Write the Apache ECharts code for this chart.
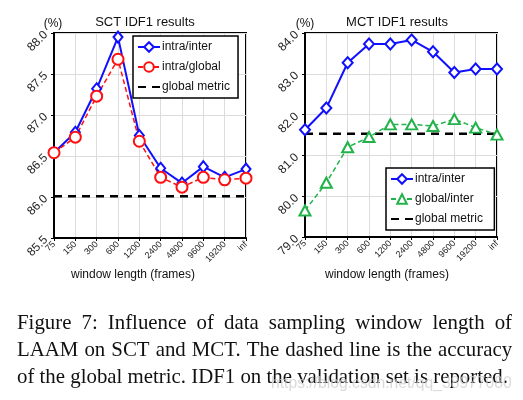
<!DOCTYPE html>
<html><head><meta charset="utf-8">
<script src="https://cdn.jsdelivr.net/npm/echarts@6/dist/echarts.min.js"></script>
<style>html,body{margin:0;padding:0;background:#fff}#c{width:523px;height:400px}</style>
</head><body><div id="c"></div>
<script>
const categories = ['75','150','300','600','1200','2400','4800','9600','19200','inf'];
const sctIntraInter = [86.54, 86.79, 87.32, 87.95, 86.75, 86.35, 86.17, 86.37, 86.24, 86.34];
const sctIntraGlobal = [86.54, 86.73, 87.23, 87.68, 86.68, 86.24, 86.12, 86.24, 86.21, 86.23];
const sctGlobal = [86.01, 86.01, 86.01, 86.01, 86.01, 86.01, 86.01, 86.01, 86.01, 86.01];
const mctIntraInter = [81.63, 82.16, 83.27, 83.73, 83.73, 83.83, 83.54, 83.03, 83.12, 83.12];
const mctGlobalInter = [79.65, 80.33, 81.20, 81.45, 81.76, 81.76, 81.72, 81.89, 81.68, 81.51];
const mctGlobal = [81.53, 81.53, 81.53, 81.53, 81.53, 81.53, 81.53, 81.53, 81.53, 81.53];
const sctTicks = {min: 85.5, max: 88.0, interval: 0.5};
const mctTicks = {min: 79.0, max: 84.0, interval: 1.0};
const captionLines = [
  'Figure 7:  Influence of data sampling window length of',
  'LAAM on SCT and MCT. The dashed line is the accuracy',
  'of the global metric. IDF1 on the validation set is reported.'
];
const watermark = 'https://blog.csdn.net/qq_38977080';

const BLUE = '#1010ff', RED = '#ff1010', GREEN = '#22b24a';
const SANS = 'Liberation Sans, Arial, sans-serif';
const SERIF = 'Liberation Serif, Times New Roman, serif';

function xAxis(gi) {
  return {
    type: 'category', gridIndex: gi, data: categories, boundaryGap: false,
    axisLine: {lineStyle: {color: '#000', width: 2}},
    axisTick: {show: true, length: 3, lineStyle: {color: '#000', width: 1}},
    axisLabel: {rotate: 45, fontSize: 9, color: '#222', margin: 5, fontFamily: SANS, interval: 0},
    splitLine: {show: true, lineStyle: {color: '#dcdcdc', width: 1}}
  };
}
function yAxis(gi, t) {
  return {
    type: 'value', gridIndex: gi, min: t.min, max: t.max, interval: t.interval,
    axisLine: {show: true, lineStyle: {color: '#000', width: 2}},
    axisTick: {show: true, length: 3, lineStyle: {color: '#000', width: 1}},
    axisLabel: {rotate: 45, fontSize: 12, color: '#222', margin: 8, fontFamily: SANS,
      formatter: v => v.toFixed(1)},
    splitLine: {show: true, lineStyle: {color: '#dcdcdc', width: 1}}
  };
}
function dataSeries(name, data, gi, color, symbol, size, dashed) {
  return {
    name, type: 'line', xAxisIndex: gi, yAxisIndex: gi, data,
    symbol, symbolSize: size, color, showAllSymbol: true,
    itemStyle: {color, borderColor: color, borderWidth: 1.5},
    lineStyle: {color, width: dashed ? 1.5 : 2, type: dashed ? [5, 3] : 'solid'},
    animation: false, z: 3
  };
}
function metricSeries(data, gi, name) {
  return {
    name, type: 'line', xAxisIndex: gi, yAxisIndex: gi, data,
    symbol: 'none', color: '#000',
    lineStyle: {color: '#000', width: 2.5, type: [8, 6]},
    animation: false, z: 2
  };
}
function legend(names, left, top, width) {
  return {
    data: names.map((n, i) => i === 2 ? {name: n, itemStyle: {opacity: 0}} : {name: n}),
    orient: 'vertical', left, top, width,
    backgroundColor: '#fff', borderColor: '#000', borderWidth: 1.5,
    padding: [5, 8, 5, 4], itemGap: 8, itemWidth: 22, itemHeight: 12,
    textStyle: {fontSize: 12, color: '#111', fontFamily: SANS, padding: [0, 0, 0, -3]},
    selectedMode: false, z: 10
  };
}

// caption layout
const ctx = document.createElement('canvas').getContext('2d');
function measure(t, size, fam) { ctx.font = size + 'px ' + fam; return ctx.measureText(t).width; }
const capLeft = 17, capRight = 512;
const capSize = 20 * 491 / measure(captionLines[2], 20, SERIF);
const graphics = [];
captionLines.forEach((line, i) => {
  const y = 326 + i * 27;
  const words = line.split(/\s+/);
  if (i < 2) {
    const widths = words.map(w => measure(w, capSize, SERIF));
    const total = widths.reduce((a, b) => a + b, 0);
    const gap = (capRight - capLeft - total) / (words.length - 1);
    let x = capLeft;
    words.forEach((w, k) => {
      graphics.push({type: 'text', left: x, top: y - capSize * 0.62, z: 5,
        style: {text: w, font: capSize.toFixed(2) + 'px ' + SERIF, fill: '#111'}});
      x += widths[k] + gap;
    });
  } else {
    graphics.push({type: 'text', left: capLeft, top: y - capSize * 0.62, z: 5,
      style: {text: line, font: capSize.toFixed(2) + 'px ' + SERIF, fill: '#111'}});
  }
});
const wmSize = 15 * 241 / measure(watermark, 15, SANS);
graphics.push({type: 'text', left: 271, top: 376, z: 6,
  style: {text: watermark, font: wmSize.toFixed(2) + 'px ' + SANS, fill: 'rgba(205,205,205,0.75)'}});
function label(text, x, y, size, align) {
  graphics.push({type: 'text', x, y, z: 5,
    style: {text, font: size + 'px ' + SANS, fill: '#111', align: align || 'center', verticalAlign: 'middle'}});
}
label('SCT IDF1 results', 145, 22, 13);
label('MCT IDF1 results', 397, 22, 13);
label('(%)', 53, 24, 12);
label('(%)', 305, 24, 12);
label('window length (frames)', 133, 275, 12);
label('window length (frames)', 387, 275, 12);

const chart = echarts.init(document.getElementById('c'), null, {renderer: 'canvas'});
chart.setOption({
  animation: false,
  backgroundColor: '#fff',
  grid: [
    {left: 54, top: 33, width: 192, height: 205, show: true, borderColor: '#000', borderWidth: 2, backgroundColor: 'transparent'},
    {left: 305, top: 33, width: 192, height: 204, show: true, borderColor: '#000', borderWidth: 2, backgroundColor: 'transparent'}
  ],
  xAxis: [xAxis(0), xAxis(1)],
  yAxis: [yAxis(0, sctTicks), yAxis(1, mctTicks)],
  legend: [
    legend(['intra/inter', 'intra/global', 'global metric'], 133, 36, 105),
    legend(['intra/inter ', 'global/inter', 'global metric '], 386, 168, 104)
  ],
  series: [
    metricSeries(sctGlobal, 0, 'global metric'),
    dataSeries('intra/inter', sctIntraInter, 0, BLUE, 'emptyDiamond', [9, 11], false),
    dataSeries('intra/global', sctIntraGlobal, 0, RED, 'emptyCircle', 11, true),
    metricSeries(mctGlobal, 1, 'global metric '),
    dataSeries('intra/inter ', mctIntraInter, 1, BLUE, 'emptyDiamond', [10, 11], false),
    dataSeries('global/inter', mctGlobalInter, 1, GREEN, 'emptyTriangle', [11, 10], true)
  ],
  graphic: graphics
});
</script></body></html>
